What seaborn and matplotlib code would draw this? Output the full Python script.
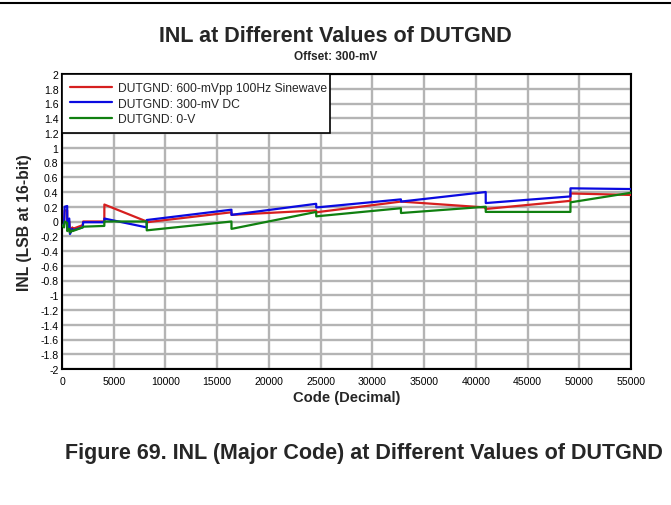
import matplotlib
matplotlib.use("Agg")
import matplotlib.pyplot as plt
from matplotlib.lines import Line2D
import numpy as np
import pandas as pd
import seaborn as sns

# Major-code transition points (decimal codes)
codes = [0, 200, 256, 500, 512, 700, 768, 1000, 1024, 2000, 2048, 4090, 4096,
         8185, 8192, 16380, 16384, 24570, 24576, 32760, 32768, 40955, 40960,
         49145, 49152, 55000]

# INL (LSB at 16-bit) for each DUTGND condition
inl_sine = [-0.05, -0.04, 0.15, 0.15, -0.10, 0.00, -0.15, -0.08, -0.10, -0.05,
            0.00, 0.00, 0.23, 0.00, -0.01, 0.125, 0.09, 0.15, 0.125, 0.27,
            0.27, 0.19, 0.17, 0.28, 0.38, 0.36]
inl_dc = [-0.05, -0.04, 0.20, 0.21, -0.10, 0.04, -0.17, -0.10, -0.12, -0.08,
          -0.01, -0.01, 0.04, -0.08, 0.02, 0.16, 0.09, 0.24, 0.19, 0.30,
          0.27, 0.40, 0.25, 0.34, 0.45, 0.44]
inl_zero = [-0.05, -0.08, 0.00, -0.02, -0.13, -0.10, -0.15, -0.12, -0.13, -0.08,
            -0.07, -0.06, 0.00, 0.00, -0.12, 0.00, -0.10, 0.13, 0.07, 0.18,
            0.115, 0.20, 0.13, 0.13, 0.26, 0.39]

series_names = ["DUTGND: 600-mVpp 100Hz Sinewave", "DUTGND: 300-mV DC", "DUTGND: 0-V"]
series_colors = ["#d61f1f", "#0a0ae0", "#108010"]

x_ticks = list(range(0, 55001, 5000))
y_ticks = [round(v, 1) for v in np.arange(-2.0, 2.01, 0.2)]

df = pd.concat([
    pd.DataFrame({"code": codes, "inl": vals, "series": name})
    for name, vals in zip(series_names, [inl_sine, inl_dc, inl_zero])
], ignore_index=True)

sns.set_theme(style="white")
plt.rcParams["font.family"] = ["Liberation Sans", "DejaVu Sans"]

W, H = 671, 506
fig = plt.figure(figsize=(W / 100, H / 100), dpi=100)
ax = fig.add_axes([62 / W, 1 - 370 / H, (631 - 62) / W, (370 - 75) / H])

sns.lineplot(data=df, x="code", y="inl", hue="series", palette=series_colors,
             sort=False, estimator=None, linewidth=1.6, ax=ax, zorder=3)

ax.set_xlim(0, 55000)
ax.set_ylim(-2, 2)
ax.set_xticks(x_ticks)
ax.set_xticklabels([str(t) for t in x_ticks])
ax.set_yticks(y_ticks)
ax.set_yticklabels([("%g" % t) if t != 0 else "0" for t in y_ticks])
ax.tick_params(axis="both", labelsize=7.6, length=0, colors="black")
ax.tick_params(axis="x", pad=5)
ax.tick_params(axis="y", pad=2.5)

ax.grid(True, color="#b4b4b4", linewidth=1.7, zorder=0)
ax.set_axisbelow(True)
for s in ax.spines.values():
    s.set_color("black")
    s.set_linewidth(1.5)

ax.set_xlabel("Code (Decimal)", fontsize=10.6, fontweight="bold", labelpad=3)
ax.set_ylabel("INL (LSB at 16-bit)", fontsize=11.3, fontweight="bold", labelpad=6)

leg = ax.legend(loc="upper left", bbox_to_anchor=(0, 0, (330 - 62) / 569, 1),
                mode="expand", borderaxespad=0, fancybox=False, framealpha=1,
                edgecolor="black", fontsize=8.7, handlelength=3.4,
                labelspacing=0.26, borderpad=0.7, handletextpad=0.5, title=None)
leg.get_frame().set_linewidth(1.2)
leg.set_zorder(5)

fig.text(0.5, 1 - 37 / H, "INL at Different Values of DUTGND", ha="center",
         va="center", fontsize=15.5, fontweight="bold")
fig.text(0.5, 1 - 57 / H, "Offset: 300-mV", ha="center", va="center",
         fontsize=8.5, fontweight="bold")
fig.text(364 / W, 1 - 453 / H, "Figure 69. INL (Major Code) at Different Values of DUTGND",
         ha="center", va="center", fontsize=15.5, fontweight="bold")
fig.add_artist(Line2D([0, 1], [1 - 4 / H, 1 - 4 / H], color="black", linewidth=1.5,
                      transform=fig.transFigure))

fig.savefig("out.png", dpi=100)
